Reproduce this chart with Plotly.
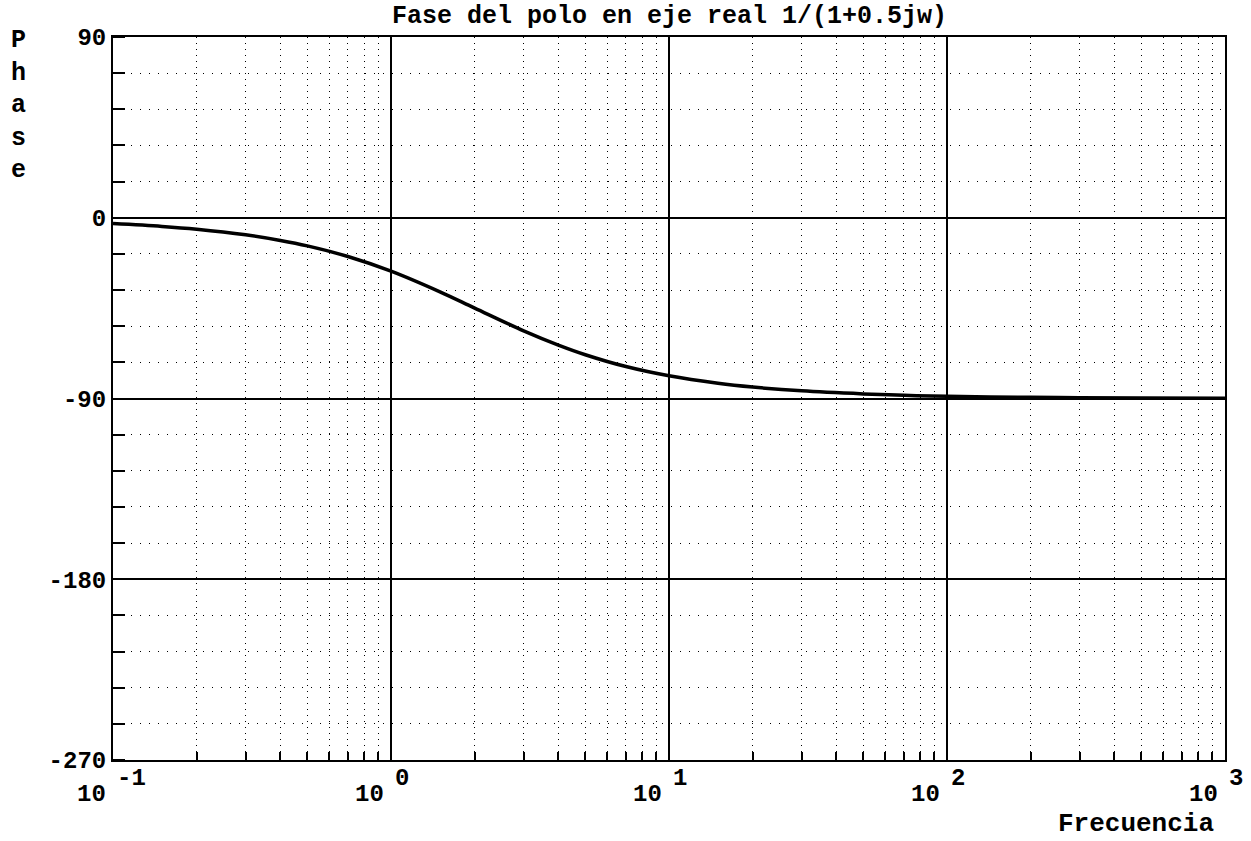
import plotly.graph_objects as go

# Data
freq = [0.1, 0.15, 0.2, 0.3, 0.4, 0.5, 0.7, 1, 1.5, 2, 3, 4, 5, 7, 10,
        15, 20, 30, 50, 70, 100, 200, 300, 500, 1000]
phase = [-2.9, -4.3, -5.7, -8.5, -11.3, -14.0, -19.3, -26.6, -36.9, -45.0,
         -56.3, -63.4, -68.2, -74.1, -78.7, -82.4, -84.3, -86.2, -87.7,
         -88.4, -88.9, -89.4, -89.6, -89.8, -89.9]

y_ticks = [90, 0, -90, -180, -270]
x_exponents = [-1, 0, 1, 2, 3]
title_text = "Fase del polo en eje real 1/(1+0.5jw)"
y_title = "Phase"
x_title = "Frecuencia"

FONT = "Liberation Mono"


def f(size):
    return dict(family=FONT, size=size, color="black", weight="bold")


minor_x = [m * 10 ** e for e in x_exponents[:-1] for m in range(2, 10)]

fig = go.Figure()
fig.add_trace(go.Scatter(x=freq, y=phase, mode="lines",
                         line=dict(color="black", width=3.5, shape="spline"),
                         showlegend=False, hoverinfo="skip"))

fig.update_xaxes(type="log", range=[-1, 3],
                 tickvals=[10 ** e for e in x_exponents], showticklabels=False,
                 showgrid=True, gridcolor="black", gridwidth=1.5,
                 showline=True, linecolor="black", linewidth=2, mirror=True,
                 ticks="", zeroline=False,
                 minor=dict(tickvals=minor_x, showgrid=True, gridcolor="black",
                            gridwidth=1, griddash="1px,5px", ticks="inside",
                            ticklen=8, tickcolor="black", tickwidth=1.5))
fig.update_yaxes(range=[-270, 90], tickvals=y_ticks,
                 ticktext=[str(v) for v in y_ticks],
                 tickfont=f(24),
                 showgrid=True, gridcolor="black", gridwidth=1.5,
                 showline=True, linecolor="black", linewidth=2, mirror=True,
                 ticks="", zeroline=False, ticklabelstandoff=0,
                 minor=dict(dtick=18, showgrid=True, gridcolor="black",
                            gridwidth=1, griddash="1px,8px", ticks="inside",
                            ticklen=12, tickcolor="black", tickwidth=1.5))

ann = []
for e in x_exponents:
    ann.append(dict(x=e, xref="x", y=-0.048, yref="paper", text="10",
                    xanchor="right", yanchor="middle", xshift=-5, showarrow=False,
                    font=f(24)))
    ann.append(dict(x=e, xref="x", y=-0.025, yref="paper", text=str(e),
                    xanchor="left", yanchor="middle", xshift=2, showarrow=False,
                    font=f(24)))
ann.append(dict(x=0.5, xref="paper", y=1.0277, yref="paper", text=title_text,
                xanchor="center", yanchor="middle", showarrow=False,
                font=f(25)))
ann.append(dict(x=0.992, xref="paper", y=-0.0885, yref="paper", text=x_title,
                xanchor="right", yanchor="middle", showarrow=False,
                font=f(26)))
ann.append(dict(x=-0.0854, xref="paper", y=1.018, yref="paper",
                text="<br>".join(list(y_title)),
                xanchor="center", yanchor="top", showarrow=False,
                font=f(25)))

fig.update_layout(width=1251, height=841,
                  margin=dict(l=113, r=26, t=37, b=81),
                  paper_bgcolor="white", plot_bgcolor="white",
                  annotations=ann)

fig.write_html("out.html", config={"displayModeBar": False},
               post_script="document.body.style.margin='0';"
                           "document.body.style.overflow='hidden';")
